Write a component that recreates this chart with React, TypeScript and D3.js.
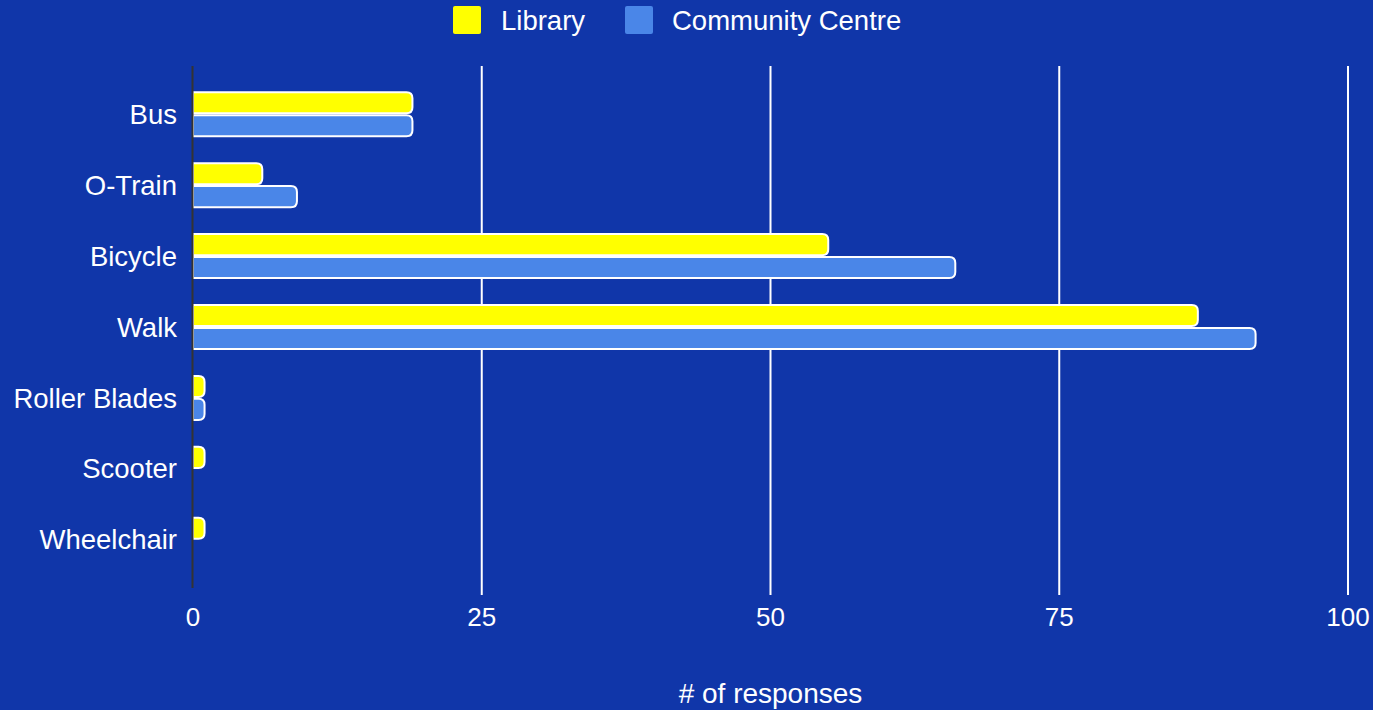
import { useEffect, useRef } from "react"
import * as d3 from "d3"

const categories = ["Bus", "O-Train", "Bicycle", "Walk", "Roller Blades", "Scooter", "Wheelchair"]
const seriesNames = ["Library", "Community Centre"]
const libraryValues = [19, 6, 55, 87, 1, 1, 1]
const communityValues = [19, 9, 66, 92, 1, 0, 0]
const xTicks = [0, 25, 50, 75, 100]
const seriesColors = ["#ffff00", "#4a86e8"]

const W = 1373
const H = 710
const BG = "#1036a9"
const FONT = "'Liberation Sans', Arial, sans-serif"

// rect with only the right-hand corners rounded
function barPath(x0: number, y0: number, w: number, h: number, r: number) {
  const rr = Math.min(r, w, h / 2)
  return `M${x0},${y0}H${x0 + w - rr}Q${x0 + w},${y0} ${x0 + w},${y0 + rr}V${y0 + h - rr}Q${x0 + w},${y0 + h} ${x0 + w - rr},${y0 + h}H${x0}Z`
}

export default function App() {
  const svgRef = useRef<SVGSVGElement>(null)

  useEffect(() => {
    if (!svgRef.current) return
    const svg = d3.select(svgRef.current)
    svg.selectAll("*").remove()

    const margin = { top: 66, right: 25, bottom: 122, left: 193 }
    const innerW = W - margin.left - margin.right
    const innerH = H - margin.top - margin.bottom

    svg.append("rect").attr("width", W).attr("height", H).attr("fill", BG)

    const x = d3.scaleLinear().domain([0, 100]).range([margin.left, margin.left + innerW])
    const y0 = d3
      .scaleBand<string>()
      .domain(categories)
      .range([margin.top, margin.top + innerH])
      .paddingInner(0.38)
      .paddingOuter(0.37)
    const y1 = d3.scaleBand<string>().domain(seriesNames).range([0, y0.bandwidth()]).paddingInner(0.08)

    // gridlines
    svg
      .append("g")
      .selectAll("line")
      .data(xTicks.slice(1))
      .join("line")
      .attr("x1", (d) => x(d))
      .attr("x2", (d) => x(d))
      .attr("y1", margin.top)
      .attr("y2", margin.top + innerH + 7)
      .attr("stroke", "#ffffff")
      .attr("stroke-width", 2)

    // x tick labels
    svg
      .append("g")
      .selectAll("text")
      .data(xTicks)
      .join("text")
      .attr("x", (d) => x(d))
      .attr("y", 617)
      .attr("dy", "0.35em")
      .attr("text-anchor", "middle")
      .attr("fill", "#ffffff")
      .attr("font-family", FONT)
      .attr("font-size", 26)
      .text((d) => d)

    // bars
    const rows = categories.map((c, i) => ({ cat: c, vals: [libraryValues[i], communityValues[i]] }))
    const groups = svg
      .append("g")
      .selectAll("g")
      .data(rows)
      .join("g")
      .attr("transform", (d) => `translate(0,${y0(d.cat)})`)
    groups
      .selectAll("path")
      .data((d) => d.vals.map((v, j) => ({ v, s: seriesNames[j], c: seriesColors[j] })).filter((e) => e.v > 0))
      .join("path")
      .attr("d", (e) => barPath(x(0), y1(e.s)!, x(e.v) - x(0), y1.bandwidth(), 6))
      .attr("fill", (e) => e.c)
      .attr("stroke", "#ffffff")
      .attr("stroke-width", 2)

    // category labels
    svg
      .append("g")
      .selectAll("text")
      .data(categories)
      .join("text")
      .attr("x", 177)
      .attr("y", (d) => y0(d)! + y0.bandwidth() / 2)
      .attr("dy", "0.35em")
      .attr("text-anchor", "end")
      .attr("fill", "#ffffff")
      .attr("font-family", FONT)
      .attr("font-size", 27.5)
      .text((d) => d)

    // left axis line
    svg
      .append("line")
      .attr("x1", x(0) - 0.5)
      .attr("x2", x(0) - 0.5)
      .attr("y1", margin.top)
      .attr("y2", margin.top + innerH)
      .attr("stroke", "#333333")
      .attr("stroke-width", 2)

    // axis title
    svg
      .append("text")
      .attr("x", (margin.left + margin.left + innerW) / 2)
      .attr("y", 693)
      .attr("dy", "0.35em")
      .attr("text-anchor", "middle")
      .attr("fill", "#ffffff")
      .attr("font-family", FONT)
      .attr("font-size", 28)
      .text("# of responses")

    // legend
    const legendX = [453, 625]
    const legend = svg
      .append("g")
      .selectAll("g")
      .data(seriesNames)
      .join("g")
      .attr("transform", (_, i) => `translate(${legendX[i]},6)`)
    legend
      .append("rect")
      .attr("width", 28)
      .attr("height", 28)
      .attr("rx", 2)
      .attr("fill", (_, i) => seriesColors[i])
    legend
      .append("text")
      .attr("x", (_, i) => (i === 0 ? 48 : 47))
      .attr("y", 14)
      .attr("dy", "0.35em")
      .attr("fill", "#ffffff")
      .attr("font-family", FONT)
      .attr("font-size", 27.5)
      .text((d) => d)
  }, [])

  return (
    <svg
      ref={svgRef}
      width={W}
      height={H}
      style={{ position: "absolute", left: 0, top: 0, display: "block" }}
    />
  )
}
